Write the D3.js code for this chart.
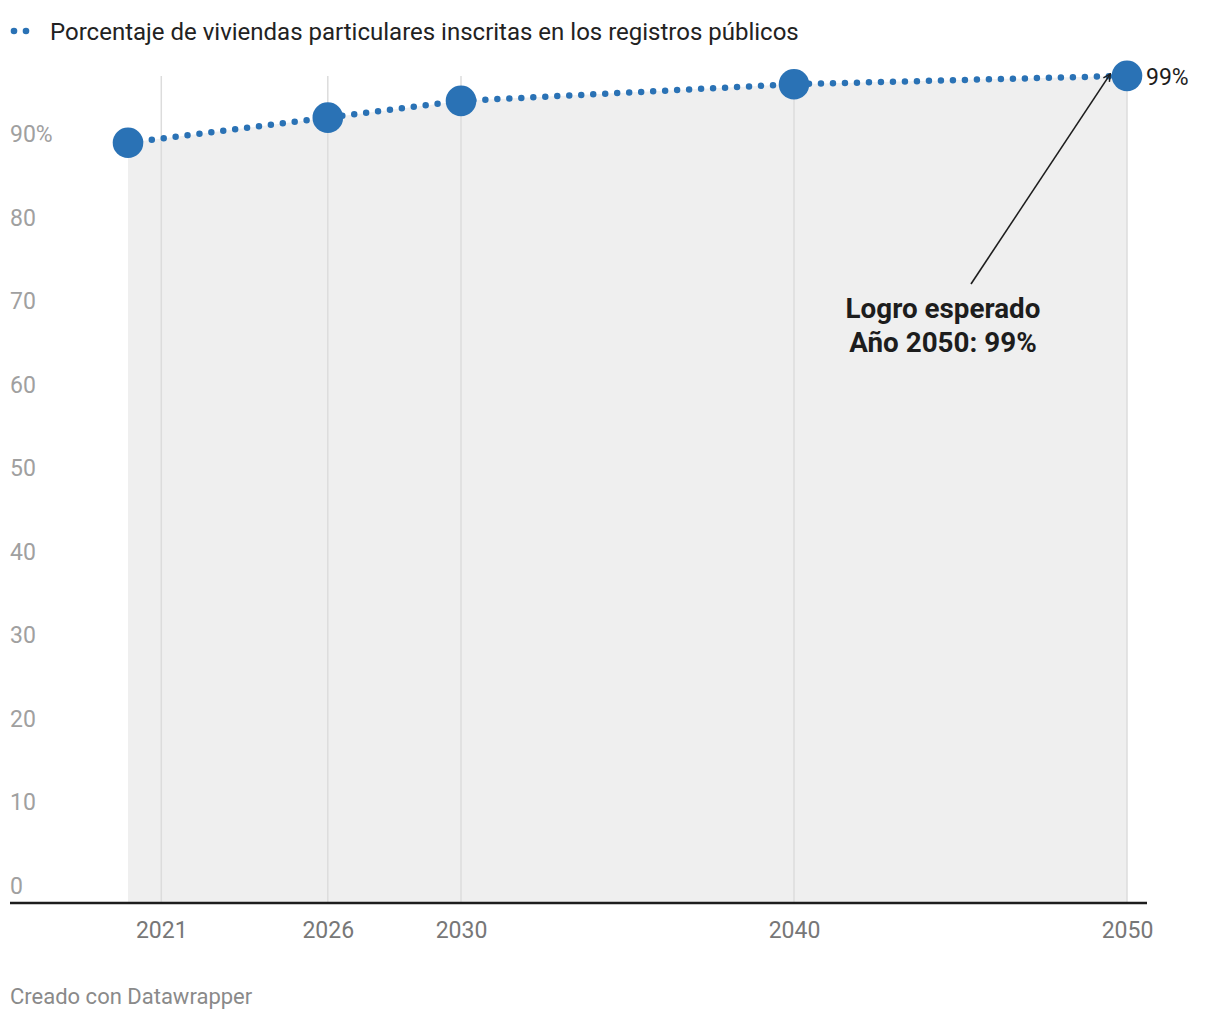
<!DOCTYPE html>
<html>
<head>
<meta charset="utf-8">
<script src="https://cdn.jsdelivr.net/npm/d3@7"></script>
<style>
  body { margin: 0; background: #fff; font-family: Roboto, "Noto Sans", sans-serif; }
  svg text { font-family: Roboto, "Noto Sans", sans-serif; }
</style>
</head>
<body>
<svg id="chart" width="1220" height="1020"></svg>
<script>
// data
const years = [2020, 2026, 2030, 2040, 2050];
const values = [91, 94, 96, 98, 99];
const xTicks = [2021, 2026, 2030, 2040, 2050];
const yTicks = [0, 10, 20, 30, 40, 50, 60, 70, 80, 90];
const seriesName = "Porcentaje de viviendas particulares inscritas en los registros públicos";

const blue = "#2a72b5";
const svg = d3.select("#chart");

const x = d3.scaleLinear().domain([2020, 2050]).range([128, 1127]);
const y = d3.scaleLinear().domain([0, 100]).range([903, 67.5]);

const pts = years.map((yr, i) => ({ yr, v: values[i] }));

// area under line
svg.append("path")
  .datum(pts)
  .attr("fill", "#efefef")
  .attr("d", d3.area().x(d => x(d.yr)).y0(y(0)).y1(d => y(d.v)));

// vertical grid lines
svg.append("g")
  .selectAll("line")
  .data(xTicks)
  .join("line")
    .attr("x1", d => x(d)).attr("x2", d => x(d))
    .attr("y1", 76).attr("y2", 903)
    .attr("stroke", "#dcdcdc")
    .attr("stroke-width", 1.5);

// y labels (sit above the value they mark)
svg.append("g")
  .selectAll("text")
  .data(yTicks)
  .join("text")
    .attr("x", 10)
    .attr("y", d => y(d) - 9)
    .attr("font-size", 23)
    .attr("fill", "#a0a0a0")
    .text(d => d === 90 ? "90%" : d);

// x axis
const xAxis = svg.append("g")
  .attr("transform", `translate(0,${y(0)})`)
  .call(d3.axisBottom(x).tickValues(xTicks).tickFormat(d3.format("d")).tickSize(0).tickPadding(19));
xAxis.select(".domain").remove();
xAxis.selectAll("text")
  .attr("font-size", 23)
  .attr("fill", "#777")
  .attr("font-family", "Roboto, sans-serif");

svg.append("line")
  .attr("x1", 10).attr("x2", 1147)
  .attr("y1", y(0)).attr("y2", y(0))
  .attr("stroke", "#1d1d1d")
  .attr("stroke-width", 2.5);

// dotted line
svg.append("path")
  .datum(pts)
  .attr("fill", "none")
  .attr("stroke", blue)
  .attr("stroke-width", 6.5)
  .attr("stroke-linecap", "round")
  .attr("stroke-dasharray", "0 12")
  .attr("d", d3.line().x(d => x(d.yr)).y(d => y(d.v)));

// points
svg.append("g")
  .selectAll("circle")
  .data(pts)
  .join("circle")
    .attr("cx", d => x(d.yr))
    .attr("cy", d => y(d.v))
    .attr("r", 15.3)
    .attr("fill", blue);

// end label
svg.append("text")
  .attr("x", x(2050) + 19)
  .attr("y", y(99) + 9)
  .attr("font-size", 23)
  .attr("fill", "#1d1d1d")
  .text("99%");

// legend
svg.append("circle").attr("cx", 14).attr("cy", 31).attr("r", 3.3).attr("fill", blue);
svg.append("circle").attr("cx", 26).attr("cy", 31).attr("r", 3.3).attr("fill", blue);
svg.append("text")
  .attr("x", 50).attr("y", 40)
  .attr("font-size", 24)
  .attr("fill", "#222")
  .text(seriesName);

// annotation arrow
svg.append("defs").append("marker")
  .attr("id", "arrow")
  .attr("viewBox", "0 0 10 10")
  .attr("refX", 9).attr("refY", 5)
  .attr("markerWidth", 9).attr("markerHeight", 9)
  .attr("markerUnits", "userSpaceOnUse")
  .attr("orient", "auto")
  .append("path")
    .attr("d", "M1,1 L9,5 L1,9")
    .attr("fill", "none")
    .attr("stroke", "#1d1d1d")
    .attr("stroke-width", 1.6);

svg.append("line")
  .attr("x1", 971).attr("y1", 284)
  .attr("x2", x(2049.5)).attr("y2", y(99) - 2)
  .attr("stroke", "#1d1d1d")
  .attr("stroke-width", 1.6)
  .attr("marker-end", "url(#arrow)");

const note = svg.append("text")
  .attr("text-anchor", "middle")
  .attr("font-size", 27.8)
  .attr("font-weight", "bold")
  .attr("fill", "#1d1d1d");
note.append("tspan").attr("x", 943).attr("y", 318).text("Logro esperado");
note.append("tspan").attr("x", 943).attr("y", 352).text("Año 2050: 99%");

// footer
svg.append("text")
  .attr("x", 10).attr("y", 1004)
  .attr("font-size", 22)
  .attr("fill", "#8a8a8a")
  .text("Creado con Datawrapper");
</script>
</body>
</html>
